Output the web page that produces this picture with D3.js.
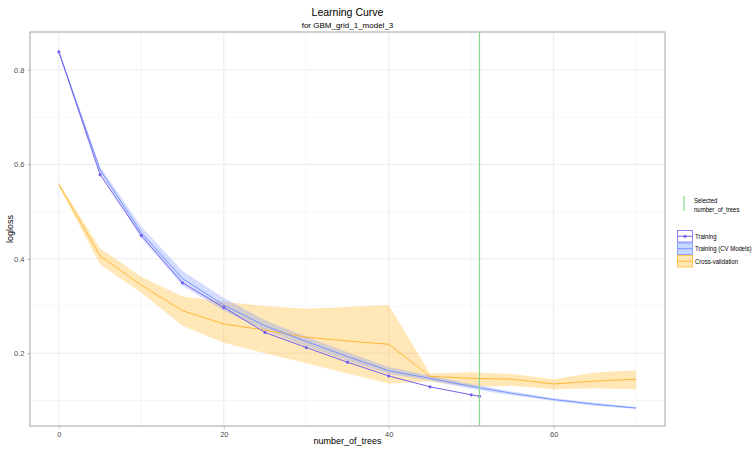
<!DOCTYPE html>
<html>
<head>
<meta charset="utf-8">
<script src="https://cdn.jsdelivr.net/npm/d3@7"></script>
<style>
  body { margin: 0; background: #fff; }
  svg text { font-family: "Liberation Sans", Arial, sans-serif; }
</style>
</head>
<body>
<svg id="chart" width="756" height="450"></svg>
<script>
// training scoring history (single model)
const trainTrees = [0, 5, 10, 15, 20, 25, 30, 35, 40, 45, 50, 51];
const trainLoss = [0.838, 0.578, 0.449, 0.349, 0.297, 0.244, 0.212, 0.181, 0.152, 0.129, 0.112, 0.109];

// CV models: mean and band
const cvTrees = [0, 5, 10, 15, 20, 25, 30, 35, 40, 45, 50, 55, 60, 65, 70];
const cvTrainMean = [0.838, 0.588, 0.455, 0.358, 0.302, 0.258, 0.225, 0.193, 0.163, 0.147, 0.130, 0.115, 0.102, 0.092, 0.084];
const cvTrainLo = [0.836, 0.582, 0.444, 0.343, 0.290, 0.248, 0.215, 0.184, 0.156, 0.142, 0.125, 0.111, 0.099, 0.089, 0.082];
const cvTrainHi = [0.840, 0.595, 0.468, 0.374, 0.317, 0.270, 0.235, 0.202, 0.171, 0.153, 0.135, 0.119, 0.105, 0.095, 0.086];

const xvalMean = [0.557, 0.406, 0.344, 0.290, 0.262, 0.249, 0.234, 0.226, 0.219, 0.151, 0.147, 0.145, 0.135, 0.141, 0.145];
const xvalLo = [0.553, 0.388, 0.328, 0.258, 0.222, 0.200, 0.179, 0.157, 0.136, 0.140, 0.129, 0.131, 0.124, 0.126, 0.124];
const xvalHi = [0.561, 0.422, 0.362, 0.320, 0.309, 0.300, 0.294, 0.298, 0.302, 0.157, 0.160, 0.156, 0.145, 0.159, 0.164];

const selectedTrees = 51;

const xTicks = [0, 20, 40, 60];
const xMinor = [10, 30, 50, 70];
const yTicks = [0.2, 0.4, 0.6, 0.8];
const yMinor = [0.1, 0.3, 0.5, 0.7];

const svg = d3.select("#chart");
const panel = {left: 30, right: 665, top: 32, bottom: 426};

const x = d3.scaleLinear().domain([-3.5, 73.5]).range([panel.left, panel.right]);
const y = d3.scaleLinear().domain([0.046, 0.88]).range([panel.bottom, panel.top]);

const purple = "#7462ee";
const blue = "#7394ff";
const blueFill = "#c9d8ff";
const orange = "#ffb833";
const orangeFill = "#ffe6b5";
const green = "#8fd68f";

// grid
const g = svg.append("g");
g.selectAll(".minx").data(xMinor).enter().append("line")
  .attr("x1", d => x(d)).attr("x2", d => x(d))
  .attr("y1", panel.top).attr("y2", panel.bottom)
  .attr("stroke", "#f2f2f2").attr("stroke-width", 0.6);
g.selectAll(".miny").data(yMinor).enter().append("line")
  .attr("y1", d => y(d)).attr("y2", d => y(d))
  .attr("x1", panel.left).attr("x2", panel.right)
  .attr("stroke", "#f2f2f2").attr("stroke-width", 0.6);
g.selectAll(".majx").data(xTicks).enter().append("line")
  .attr("x1", d => x(d)).attr("x2", d => x(d))
  .attr("y1", panel.top).attr("y2", panel.bottom)
  .attr("stroke", "#ebebeb").attr("stroke-width", 1);
g.selectAll(".majy").data(yTicks).enter().append("line")
  .attr("y1", d => y(d)).attr("y2", d => y(d))
  .attr("x1", panel.left).attr("x2", panel.right)
  .attr("stroke", "#ebebeb").attr("stroke-width", 1);

// ribbons
const area = (lo, hi) => d3.area()
  .x((d, i) => x(cvTrees[i]))
  .y0((d, i) => y(lo[i]))
  .y1((d, i) => y(hi[i]));

svg.append("path").datum(cvTrees)
  .attr("d", area(xvalLo, xvalHi))
  .attr("fill", "#ffc34d").attr("fill-opacity", 0.4);
svg.append("path").datum(cvTrees)
  .attr("d", area(cvTrainLo, cvTrainHi))
  .attr("fill", "#6f8fff").attr("fill-opacity", 0.3);

// lines
const line = (xs, ys) => d3.line().x((d, i) => x(xs[i])).y((d, i) => y(ys[i]));

svg.append("path").datum(cvTrees)
  .attr("d", line(cvTrees, xvalMean))
  .attr("fill", "none").attr("stroke", orange).attr("stroke-width", 1);
svg.append("path").datum(cvTrees)
  .attr("d", line(cvTrees, cvTrainMean))
  .attr("fill", "none").attr("stroke", blue).attr("stroke-width", 1);
svg.append("path").datum(trainTrees)
  .attr("d", line(trainTrees, trainLoss))
  .attr("fill", "none").attr("stroke", purple).attr("stroke-width", 1);
svg.selectAll(".pt").data(trainTrees).enter().append("circle")
  .attr("cx", d => x(d)).attr("cy", (d, i) => y(trainLoss[i]))
  .attr("r", 1.6).attr("fill", purple);

// selected number of trees
svg.append("line")
  .attr("x1", x(selectedTrees)).attr("x2", x(selectedTrees))
  .attr("y1", panel.top).attr("y2", panel.bottom)
  .attr("stroke", green).attr("stroke-width", 1.3);

// panel border
svg.append("rect")
  .attr("x", panel.left).attr("y", panel.top)
  .attr("width", panel.right - panel.left).attr("height", panel.bottom - panel.top)
  .attr("fill", "none").attr("stroke", "#b3b3b3").attr("stroke-width", 1.2);

// axes
const xAxis = svg.append("g").attr("transform", `translate(0,${panel.bottom})`)
  .call(d3.axisBottom(x).tickValues(xTicks).tickSize(2.5).tickPadding(3));
const yAxis = svg.append("g").attr("transform", `translate(${panel.left},0)`)
  .call(d3.axisLeft(y).tickValues(yTicks).tickSize(2.5).tickPadding(3).tickFormat(d3.format(".1f")));
[xAxis, yAxis].forEach(a => {
  a.select(".domain").remove();
  a.selectAll(".tick line").attr("stroke", "#b3b3b3");
  a.selectAll(".tick text").attr("fill", "#4d4d4d").style("font-size", "7.5px");
});

// titles
const cx = (panel.left + panel.right) / 2;
svg.append("text").attr("x", cx).attr("y", 16).attr("text-anchor", "middle")
  .style("font-size", "10.5px").attr("fill", "#000").text("Learning Curve");
svg.append("text").attr("x", cx).attr("y", 28).attr("text-anchor", "middle")
  .style("font-size", "8px").attr("fill", "#000").text("for GBM_grid_1_model_3");
svg.append("text").attr("x", cx).attr("y", 444).attr("text-anchor", "middle")
  .style("font-size", "9px").attr("fill", "#000").text("number_of_trees");
svg.append("text").attr("transform", `translate(13,${(panel.top + panel.bottom) / 2}) rotate(-90)`)
  .attr("text-anchor", "middle").style("font-size", "9px").attr("fill", "#000").text("logloss");

// legend (text squeezed horizontally, like the narrow device font of the original)
const lg = svg.append("g");
const legendText = (tx, ty, s) => lg.append("text")
  .attr("transform", `translate(${tx},${ty}) scale(0.86,1)`)
  .style("font-size", "7px").attr("fill", "#000").text(s);

lg.append("line").attr("x1", 684).attr("x2", 684).attr("y1", 196).attr("y2", 211)
  .attr("stroke", green).attr("stroke-width", 1.2);
legendText(694, 203, "Selected");
legendText(694, 212, "number_of_trees");

const keys = [
  {label: "Training", stroke: purple, fill: "#ffffff", pt: true},
  {label: "Training (CV Models)", stroke: blue, fill: blueFill, pt: false},
  {label: "Cross-validation", stroke: orange, fill: orangeFill, pt: false}
];
const keyTop = 230, keyH = 12.5;
keys.forEach((k, i) => {
  const ky = keyTop + i * keyH;
  lg.append("rect").attr("x", 677.5).attr("y", ky + 0.5).attr("width", 15).attr("height", keyH - 1)
    .attr("fill", k.fill).attr("stroke", k.stroke).attr("stroke-width", 0.8);
  lg.append("line").attr("x1", 677.5).attr("x2", 692.5).attr("y1", ky + keyH / 2).attr("y2", ky + keyH / 2)
    .attr("stroke", k.stroke).attr("stroke-width", 1);
  if (k.pt) lg.append("circle").attr("cx", 685).attr("cy", ky + keyH / 2).attr("r", 1.6).attr("fill", k.stroke);
  legendText(695, ky + keyH / 2 + 2.5, k.label);
});
</script>
</body>
</html>
